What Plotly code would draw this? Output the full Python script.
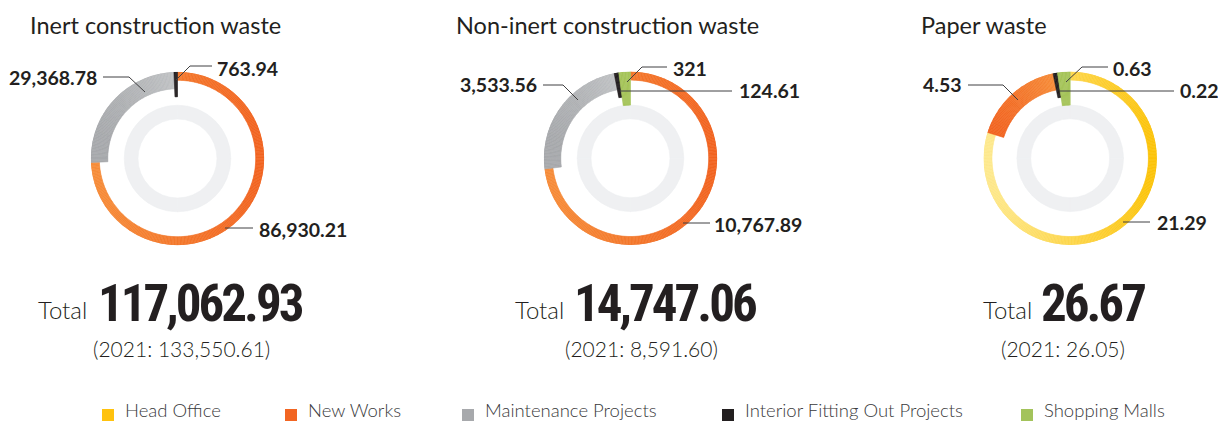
import math
import plotly.graph_objects as go

# ---- data -------------------------------------------------------------
categories = ["Head Office", "New Works", "Maintenance Projects",
              "Interior Fitting Out Projects", "Shopping Malls"]

chart_titles = ["Inert construction waste", "Non-inert construction waste", "Paper waste"]

inert_values = [0, 86930.21, 29368.78, 763.94, 0]
noninert_values = [0, 10767.89, 3533.56, 124.61, 321]
paper_values = [21.29, 4.53, 0, 0.22, 0.63]

totals_2022 = [117062.93, 14747.06, 26.67]
totals_2021 = [133550.61, 8591.60, 26.05]

series = [inert_values, noninert_values, paper_values]

# ---- styling ----------------------------------------------------------
W, H = 1218, 423
INK = "#231f20"
LINE = "#414042"
R_OUT = 86.7
CENTERS = [(177.5, 158.5), (630.5, 158.3), (1070.2, 158.3)]
# ring thickness by position of the slice (clockwise from 12 o'clock)
THICKNESS = [8.5, 17.0, 25.0, 33.5]
INNER_RING = (39.5, 53.3, "#eff0f2")

# (dark, light) pair per category; solid categories use one colour twice
PALETTE = {
    "Head Office": ("#fcc40c", "#fee98f"),
    "New Works": ("#f26522", "#f68d3a"),
    "Maintenance Projects": ("#a7a9ac", "#c0c2c4"),
    "Interior Fitting Out Projects": ("#231f20", "#231f20"),
    "Shopping Malls": ("#a6c55a", "#a6c55a"),
}
LEGEND_COLORS = ["#ffc20e", "#f26522", "#a7a9ac", "#231f20", "#a3c35b"]

# label placement per chart: category -> (text x, text y, anchor, leader path in px)
LABELS = [
    {
        "New Works": (257, 229, "left", [(225, 228), (253, 228)]),
        "Maintenance Projects": (99, 77, "right", [(103, 77), (129, 77), (145, 92)]),
        "Interior Fitting Out Projects": (215, 68, "left", [(176, 80), (190, 66), (212, 66)]),
    },
    {
        "New Works": (712, 224, "left", [(683, 223), (710, 223)]),
        "Maintenance Projects": (539, 85, "right", [(543, 85), (563, 85), (578, 100)]),
        "Interior Fitting Out Projects": (737, 91, "left", [(620, 91), (732, 91)]),
        "Shopping Malls": (671, 68, "left", [(627, 82), (642, 67), (667, 67)]),
    },
    {
        "Head Office": (1155, 222, "left", [(1123, 222), (1150, 222)]),
        "New Works": (964, 85, "right", [(968, 85), (1003, 85), (1018, 100)]),
        "Interior Fitting Out Projects": (1178, 91, "left", [(1060, 91), (1174, 91)]),
        "Shopping Malls": (1111, 68, "left", [(1066, 82), (1082, 67), (1108, 67)]),
    },
]
TITLE_X = [28, 454, 919]
TOTAL_WORD_RIGHT = [89, 566, 1034]
TOTAL_NUM_LEFT = [96, 572, 1039]
PRIOR_CENTER = [181, 641.5, 1063]
LEGEND_SQ_X = [102, 285, 462, 722, 1021]


def fx(x):
    return x / W


def fy(y):
    return 1 - y / H


def hex_to_rgb(c):
    c = c.lstrip("#")
    return tuple(int(c[i:i + 2], 16) for i in (0, 2, 4))


def lerp_color(c0, c1, t):
    a, b = hex_to_rgb(c0), hex_to_rgb(c1)
    return "rgb({},{},{})".format(*[round(a[i] + (b[i] - a[i]) * t) for i in range(3)])


def fmt_value(v):
    if float(v).is_integer():
        return f"{int(v):,}"
    return f"{v:,.2f}"


fig = go.Figure()
layout_polars = {}

for k, values in enumerate(series):
    pid = "polar" if k == 0 else f"polar{k + 1}"
    cx, cy = CENTERS[k]
    total = sum(values)

    # pale inner ring
    r0, r1, ring_col = INNER_RING
    fig.add_trace(go.Barpolar(
        theta=[45, 135, 225, 315], width=[90] * 4, base=[r0] * 4, r=[r1 - r0] * 4,
        marker=dict(color=ring_col, line=dict(color=ring_col, width=0.6)),
        subplot=pid, hoverinfo="skip", showlegend=False))

    start = 0.0
    pos = 0
    for cat, v in zip(categories, values):
        if v <= 0:
            continue
        span = 360.0 * v / total
        thick = THICKNESS[pos]
        dark, light = PALETTE[cat]
        # horizontal gradient across the slice, split into ~1 degree pieces
        left_col, right_col = (light, dark) if pos == 0 else (dark, light)
        n = max(1, int(math.ceil(span / 1.0)))
        step = span / n
        mids = [start + step * (i + 0.5) for i in range(n)]
        xs = [math.sin(math.radians(a)) for a in mids]
        xmin, xmax = min(xs), max(xs)
        cols = []
        for xv in xs:
            t = 0.5 if xmax - xmin < 1e-9 else (xv - xmin) / (xmax - xmin)
            cols.append(lerp_color(left_col, right_col, t))
        fig.add_trace(go.Barpolar(
            theta=mids, width=[step] * n, base=[R_OUT - thick] * n, r=[thick] * n,
            marker=dict(color=cols, line=dict(color=cols, width=0.6)),
            subplot=pid, hoverinfo="skip", showlegend=False))

        # value label and leader line
        tx, ty, anchor, path = LABELS[k][cat]
        d = "M " + " L ".join(f"{fx(px)},{fy(py)}" for px, py in path)
        fig.add_shape(type="path", path=d, xref="paper", yref="paper",
                      line=dict(color=LINE, width=1))
        fig.add_annotation(x=fx(tx), y=fy(ty), xref="paper", yref="paper",
                           text=fmt_value(v), showarrow=False, xanchor=anchor, yanchor="middle",
                           font=dict(family="Lato", size=19.5, color=INK, weight="bold"))
        start += span
        pos += 1

    layout_polars[pid] = dict(
        domain=dict(x=[(cx - R_OUT) / W, (cx + R_OUT) / W],
                    y=[1 - (cy + R_OUT) / H, 1 - (cy - R_OUT) / H]),
        bgcolor="rgba(0,0,0,0)", hole=0, bargap=0,
        radialaxis=dict(visible=False, range=[0, R_OUT]),
        angularaxis=dict(visible=False, rotation=90, direction="clockwise"),
    )

    # chart title
    fig.add_annotation(x=fx(TITLE_X[k]), y=fy(25), xref="paper", yref="paper",
                       text=chart_titles[k], showarrow=False, xanchor="left", yanchor="middle",
                       font=dict(family="Lato", size=23.5, color=INK))
    # totals block
    fig.add_annotation(x=fx(TOTAL_WORD_RIGHT[k]), y=fy(309), xref="paper", yref="paper",
                       text="Total", showarrow=False, xanchor="right", yanchor="middle",
                       font=dict(family="Lato", size=24, color=INK, weight=300))
    fig.add_annotation(x=fx(TOTAL_NUM_LEFT[k]), y=fy(303), xref="paper", yref="paper",
                       text=f'<span style="letter-spacing:-3px">{totals_2022[k]:,.2f}</span>',
                       showarrow=False, xanchor="left", yanchor="middle",
                       font=dict(family="Roboto Condensed", size=51, color=INK, weight="bold"))
    fig.add_annotation(x=fx(PRIOR_CENTER[k]), y=fy(348), xref="paper", yref="paper",
                       text=f"(2021: {totals_2021[k]:,.2f})", showarrow=False,
                       xanchor="center", yanchor="middle",
                       font=dict(family="Lato", size=21, color=INK, weight=300))

# legend row
for cat, col, sx in zip(categories, LEGEND_COLORS, LEGEND_SQ_X):
    fig.add_shape(type="rect", xref="paper", yref="paper",
                  x0=fx(sx), x1=fx(sx + 12), y0=fy(421), y1=fy(409),
                  fillcolor=col, line=dict(width=0))
    fig.add_annotation(x=fx(sx + 21), y=fy(423), xref="paper", yref="paper",
                       text=cat, showarrow=False, xanchor="left", yanchor="bottom",
                       font=dict(family="Lato", size=18.5, color="#3a3a3c", weight=300))

fig.update_layout(
    width=W, height=H, margin=dict(l=0, r=0, t=0, b=0),
    paper_bgcolor="white", plot_bgcolor="white", showlegend=False,
    **layout_polars,
)

fig.write_html("out.html")
